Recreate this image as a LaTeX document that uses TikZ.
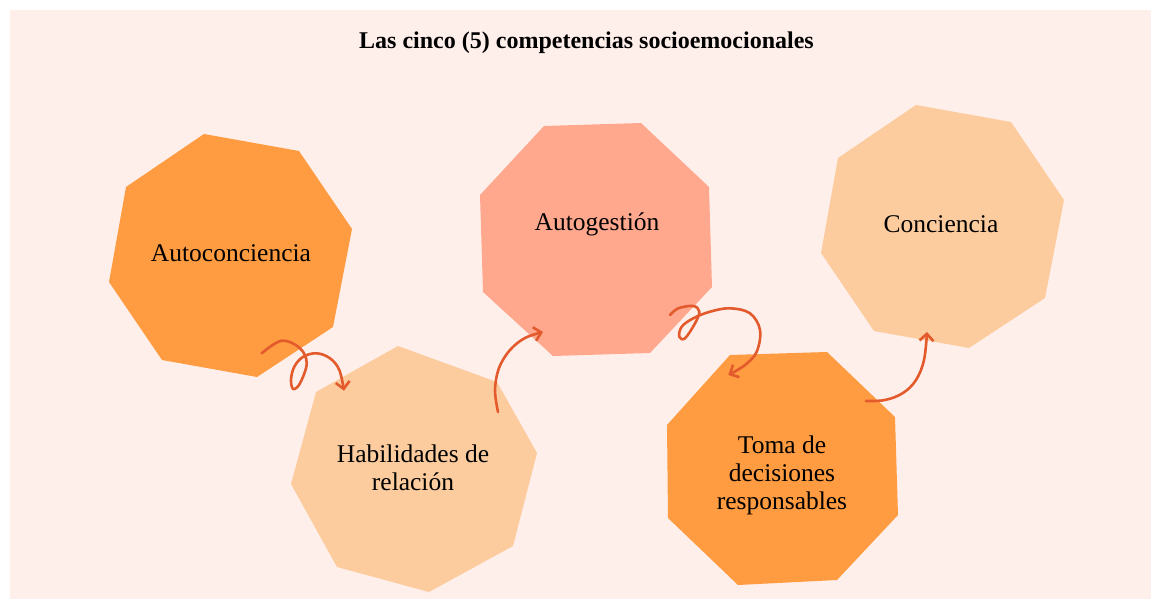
\documentclass[tikz,border=0pt]{standalone}
\usepackage{fontspec}
\setmainfont{Liberation Serif}
\usetikzlibrary{arrows.meta}
\definecolor{bgpink}{HTML}{FFEFEB}
\definecolor{deeporange}{HTML}{FF9B40}
\definecolor{peach}{HTML}{FCCC9E}
\definecolor{salmon}{HTML}{FFA88E}
\definecolor{arrowred}{HTML}{E35A2C}
\tikzset{
  label text/.style={font=\fontsize{25.5}{28}\selectfont, text=black, align=center, inner sep=0pt},
  title text/.style={font=\fontsize{24}{28}\selectfont\bfseries, text=black, inner sep=0pt},
  curly/.style={draw=arrowred, line width=2.6pt, line cap=round, line join=round,
    -{Straight Barb[length=7pt,width=14pt]}},
}
\begin{document}
\begin{tikzpicture}[x=1pt,y=-1pt]
\fill[white] (0,0) rectangle (1151,599);
\useasboundingbox (0,0) rectangle (1151,599);
\fill[bgpink] (10,10) rectangle (1151,599);

% octagons
\fill[deeporange] (204,134) -- (299,151) -- (352,229) -- (333,327) -- (257,377) -- (162,360) -- (109,282) -- (126,187) -- cycle;
\fill[peach] (398,346) -- (497,382) -- (537,453) -- (513,546) -- (429,592) -- (337,567) -- (291,484) -- (316,392) -- cycle;
\fill[salmon] (544,126) -- (641,123) -- (709,187) -- (712,287) -- (650,353) -- (553,356) -- (483,292) -- (480,195) -- cycle;
\fill[deeporange] (730,355) -- (827,352) -- (895,417) -- (898,515) -- (837,580) -- (738,585) -- (668,518) -- (667,425) -- cycle;
\fill[peach] (916,105) -- (1011,122) -- (1064,200) -- (1045,298) -- (969,348) -- (874,331) -- (821,253) -- (838,158) -- cycle;

% title
\node[title text] (title) at (586.5,43) {Las cinco (5) competencias socioemocionales};

% labels
\node[label text] (autoconc) at (231,253) {Autoconciencia};
\node[label text] (habil) at (413,468) {Habilidades de\\relación};
\node[label text] (autog) at (597,224) {Autogestión};
\node[label text] (toma) at (782,475) {Toma de\\decisiones\\responsables};
\node[label text] (conc) at (941,224) {Conciencia};

% arrows
\draw[curly] plot[smooth, tension=0.6] coordinates {(261.7,353.3) (281.7,340.7) (300,348.3) (306.7,363.3) (300,383.3) (293.3,389) (291,380) (294.3,366.7) (303.3,356.7) (316.7,353.3) (330,358.3) (339.3,370) (344,390.7)};
\draw[curly] plot[smooth, tension=0.6] coordinates {(498,412) (495,390) (499,368) (510,350) (525,338) (543,332)};
\draw[curly] plot[smooth, tension=0.6] coordinates {(670,315) (678.3,308.3) (693.3,306) (699.3,311.7) (695,323.3) (685,338.3) (679.3,336.7) (681.7,326.7) (693.3,318.3) (710,311.7) (730,308.3) (750,313.3) (760,330) (756.7,351.7) (745,365) (728.3,375)};
\draw[curly] plot[smooth, tension=0.6] coordinates {(866,401) (885,400) (903,393) (916,380) (924,360) (927,332)};
\end{tikzpicture}
\end{document}
